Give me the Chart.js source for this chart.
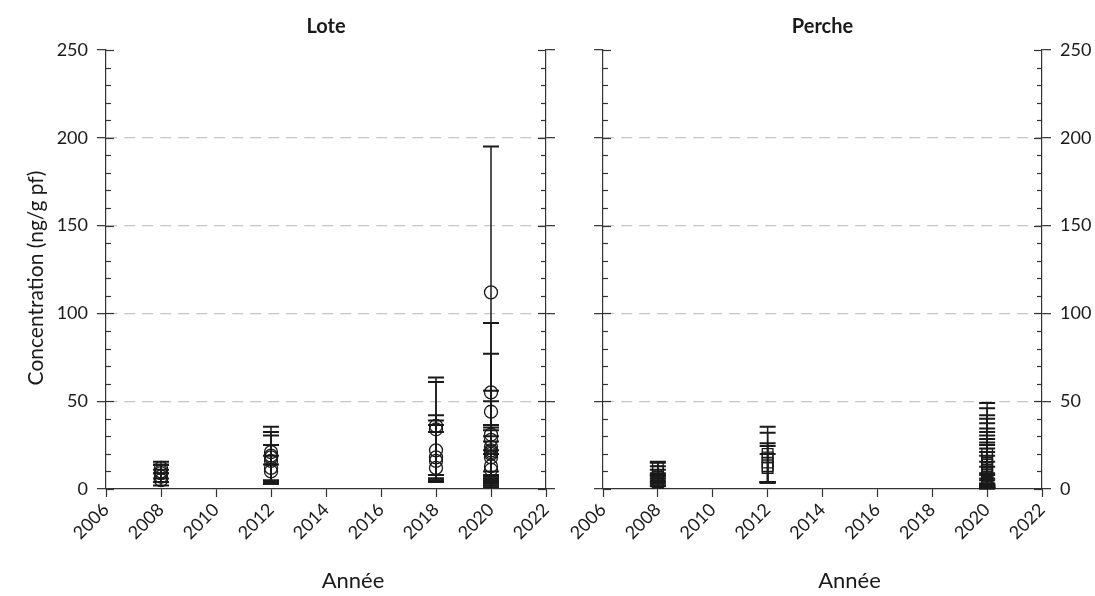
<!DOCTYPE html>
<html>
<head>
<meta charset="utf-8">
<script src="https://cdn.jsdelivr.net/npm/chart.js@4.4.1/dist/chart.umd.min.js"></script>
<style>
  html, body { margin: 0; padding: 0; background: #fff; }
  #wrap { position: relative; width: 1095px; height: 596px; overflow: hidden; }
  canvas { position: absolute; top: 0; }
  #loteChart { left: 0; }
  #percheChart { left: 560px; }
</style>
</head>
<body>
<div id="wrap">
  <canvas id="loteChart" width="570" height="596"></canvas>
  <canvas id="percheChart" width="535" height="596"></canvas>
</div>
<script>
const yearTicks = [2006, 2008, 2010, 2012, 2014, 2016, 2018, 2020, 2022];
const concTicks = [0, 50, 100, 150, 200, 250];
const concMinorStep = 10;

// Lote : année, concentration, bornes basse / haute
const loteYear = [2008, 2008, 2008, 2008, 2008,
                  2012, 2012, 2012, 2012, 2012, 2012,
                  2018, 2018, 2018, 2018, 2018, 2018,
                  2020, 2020, 2020, 2020, 2020, 2020, 2020, 2020, 2020, 2020, 2020, 2020];
const loteConc = [12, 10, 9, 7, 5,
                  21, 19, 18, 16, 12, 10,
                  36, 34, 22, 18, 16, 12,
                  112, 55, 44, 31, 28, 24, 22, 21, 20, 18, 13, 11];
const loteLow  = [9, 6, 4, 4, 2,
                  4, 3, 4, 3, 5, 4,
                  8, 6, 4, 5, 4, 6,
                  2, 10, 8, 6, 5, 4, 6, 5, 7, 3, 2, 1];
const loteHigh = [15.5, 14, 13.7, 11, 9,
                  35.5, 32.5, 30.5, 25, 19, 14,
                  63.5, 61, 42, 39, 36.5, 32.5,
                  195, 94.5, 77, 56, 50, 36.5, 35, 33.5, 30, 27, 22, 20];

// Perche
const percheYear = [2008, 2008, 2008, 2008, 2008, 2008, 2008,
                    2012, 2012, 2012, 2012, 2012,
                    2020, 2020, 2020, 2020, 2020, 2020, 2020, 2020, 2020, 2020,
                    2020, 2020, 2020, 2020, 2020, 2020, 2020, 2020, 2020, 2020];
const percheConc = [12, 10, 8, 7, 5, 4, 3,
                    20, 18, 15, 13, 12,
                    20, 18, 16, 15, 14, 12, 11, 10, 9, 8,
                    7, 6, 5, 4.5, 4, 3.5, 3, 2.5, 2, 1.5];
const percheLow  = [8, 6, 5, 4, 3, 2, 1.5,
                    4, 4, 4, 3.5, 3.5,
                    3, 2, 2, 3, 2, 3, 2, 2, 1.5, 1,
                    1, 1, 1, 1, 0.5, 0.5, 0.5, 0.5, 0.3, 0.3];
const percheHigh = [15.5, 15, 13, 11, 9, 8, 7,
                    35.5, 32, 26, 24.5, 20,
                    49, 46, 42, 40, 37.5, 34.5, 32.5, 30.5, 28.5, 26.5,
                    25, 23, 21, 19, 15.5, 12.7, 9, 8, 6, 5];

const FONT = 'Lato, "Open Sans", sans-serif';
const INK = '#1a1a1a';

// barres d'erreur verticales avec chapeaux, dessinées sous les marqueurs
const errorBars = {
    id: 'errorBars',
    beforeDatasetsDraw(chart) {
        const {ctx, scales: {x, y}} = chart;
        ctx.save();
        ctx.strokeStyle = INK;
        chart.data.datasets.forEach(ds => {
            ds.data.forEach((p, i) => {
                const px = x.getPixelForValue(p.x);
                const lo = y.getPixelForValue(ds.errLow[i]);
                const hi = y.getPixelForValue(ds.errHigh[i]);
                ctx.lineWidth = 1.5;
                ctx.beginPath();
                ctx.moveTo(px, lo);
                ctx.lineTo(px, hi);
                ctx.stroke();
                ctx.lineWidth = 2;
                ctx.beginPath();
                ctx.moveTo(px - 8, lo);
                ctx.lineTo(px + 8, lo);
                ctx.moveTo(px - 8, hi);
                ctx.lineTo(px + 8, hi);
                ctx.stroke();
            });
        });
        ctx.restore();
    }
};

// graduations secondaires et partie intérieure des graduations principales
const innerTicks = {
    id: 'innerTicks',
    afterDraw(chart) {
        const {ctx, chartArea} = chart;
        ctx.save();
        ctx.strokeStyle = '#333';
        ctx.lineWidth = 1.2;
        [chart.scales.y, chart.scales.yr].forEach(s => {
            const edge = s.position === 'left' ? chartArea.left : chartArea.right;
            const dir = s.position === 'left' ? 1 : -1;
            for (let v = s.min; v <= s.max; v += concMinorStep) {
                const py = Math.round(s.getPixelForValue(v)) + 0.5;
                const len = concTicks.includes(v) ? 8 : 5;
                ctx.beginPath();
                ctx.moveTo(edge, py);
                ctx.lineTo(edge + dir * len, py);
                ctx.stroke();
            }
        });
        ctx.restore();
    }
};

// titre du panneau et titres des axes
const panelText = {
    id: 'panelText',
    afterDraw(chart, args, opts) {
        const {ctx, chartArea} = chart;
        const cx = (chartArea.left + chartArea.right) / 2;
        ctx.save();
        ctx.fillStyle = INK;
        ctx.textAlign = 'center';
        ctx.textBaseline = 'middle';
        ctx.font = 'bold 20px ' + FONT;
        ctx.fillText(opts.title, cx, 27);
        ctx.font = '22px ' + FONT;
        ctx.fillText('Année', cx + 27, 581);
        if (opts.yTitle) {
            ctx.font = '21px ' + FONT;
            ctx.translate(36, 278);
            ctx.rotate(-Math.PI / 2);
            ctx.fillText(opts.yTitle, 0, 0);
        }
        ctx.restore();
    }
};

function makeScales(leftWidth, rightWidth, labelSide) {
    const setTicks = list => s => { s.ticks = list.map(v => ({value: v})); };
    const yAxis = (position, width, showLabels) => ({
        type: 'linear',
        position: position,
        min: 0,
        max: 250,
        afterBuildTicks: setTicks(concTicks),
        ticks: {display: showLabels, padding: 9, color: INK, font: {family: FONT, size: 18}},
        grid: {
            drawOnChartArea: position === 'left',
            color: c => (c.tick && c.tick.value > 0 && c.tick.value < 250) ? '#c6c6c6' : 'transparent',
            lineWidth: 1.3,
            tickLength: 9,
            tickColor: '#333',
            tickWidth: 1.2
        },
        border: {color: '#333', width: 1.2, dash: [11, 7]},
        afterFit: s => { s.width = width; }
    });
    return {
        x: {
            type: 'linear',
            min: 2006,
            max: 2022,
            afterBuildTicks: setTicks(yearTicks),
            ticks: {
                maxRotation: 45, minRotation: 45, padding: 2,
                color: INK, font: {family: FONT, size: 18},
                callback: v => String(v)
            },
            grid: {drawOnChartArea: false, tickLength: 8, tickColor: '#333', tickWidth: 1.2},
            border: {color: '#333', width: 1.2},
            afterFit: s => { s.height = 107; }
        },
        y: yAxis('left', leftWidth, labelSide === 'left'),
        yr: yAxis('right', rightWidth, labelSide === 'right')
    };
}

function makePanel(canvasId, title, years, conc, low, high, pointStyle, radius, scales, yTitle) {
    const ctx = document.getElementById(canvasId);
    return new Chart(ctx, {
        type: 'scatter',
        data: {
            datasets: [{
                data: years.map((yr, i) => ({x: yr, y: conc[i]})),
                errLow: low,
                errHigh: high,
                pointStyle: pointStyle,
                pointRadius: radius,
                pointBorderColor: INK,
                pointBackgroundColor: 'rgba(0,0,0,0)',
                pointBorderWidth: 1.3
            }]
        },
        options: {
            responsive: false,
            animation: false,
            devicePixelRatio: 1,
            layout: {padding: {top: 50, left: 0, right: 0, bottom: 0}},
            scales: scales,
            plugins: {
                legend: {display: false},
                tooltip: {enabled: false},
                panelText: {title: title, yTitle: yTitle}
            }
        },
        plugins: [errorBars, innerTicks, panelText]
    });
}

makePanel('loteChart', 'Lote', loteYear, loteConc, loteLow, loteHigh,
    'circle', 6.5, makeScales(106, 24, 'left'), 'Concentration (ng/g pf)');
makePanel('percheChart', 'Perche', percheYear, percheConc, percheLow, percheHigh,
    'rect', 7.5, makeScales(43, 53, 'right'), null);
</script>
</body>
</html>
